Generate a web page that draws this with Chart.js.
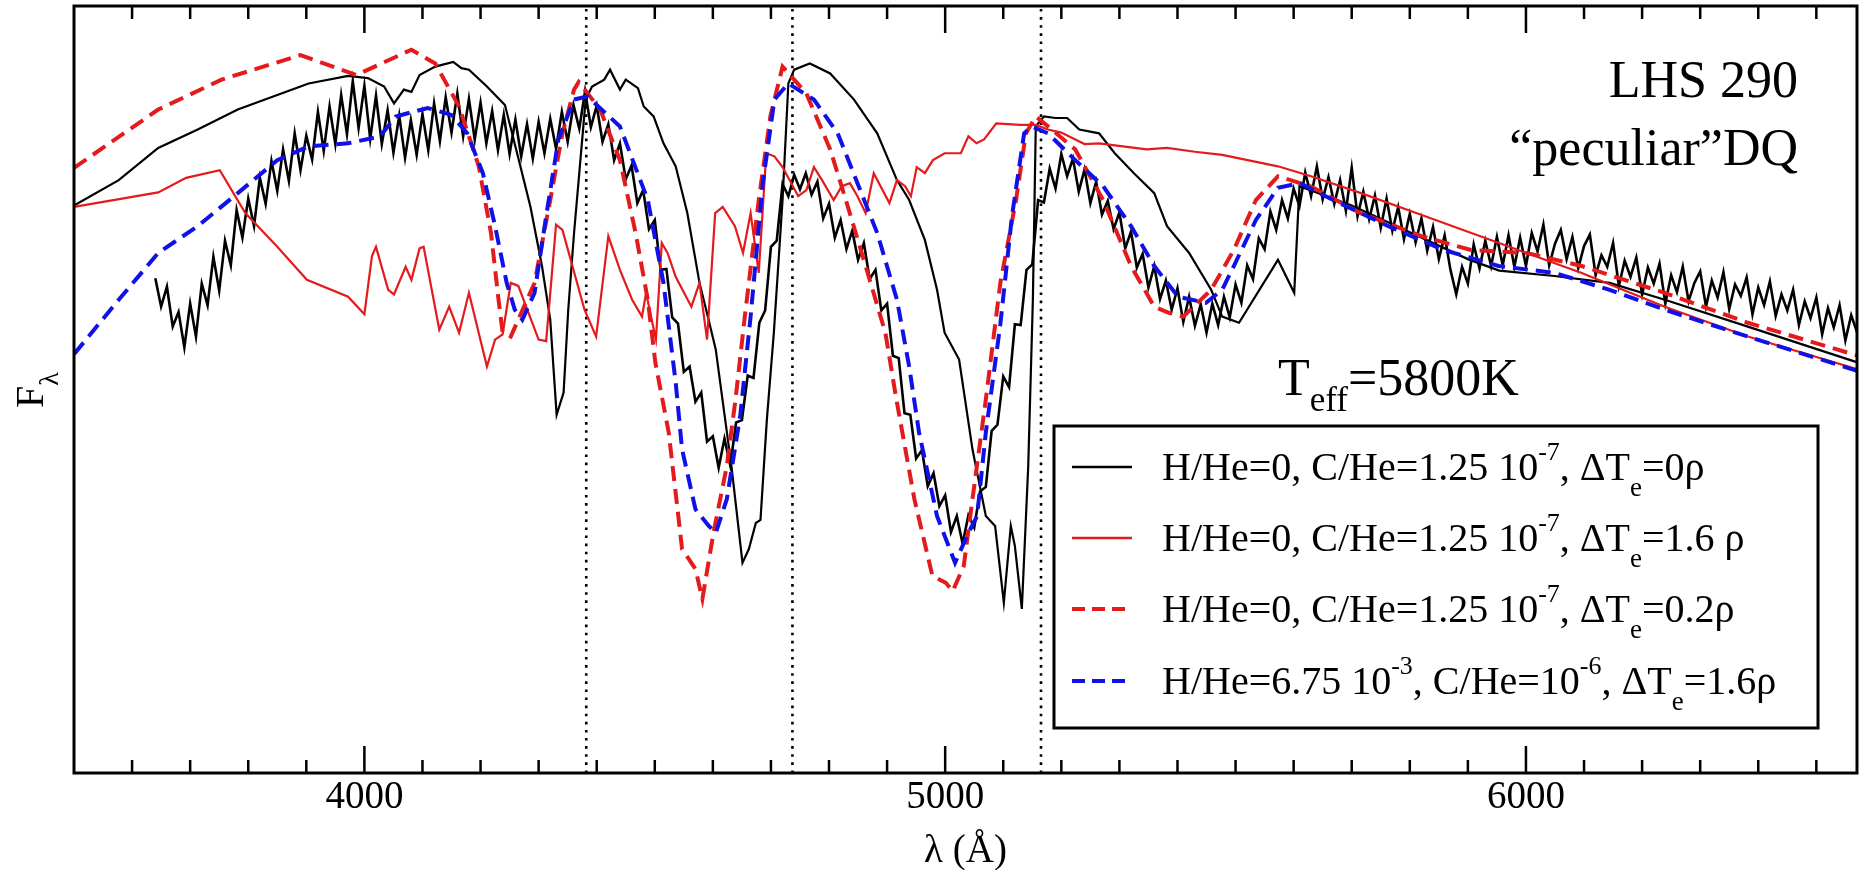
<!DOCTYPE html>
<html>
<head>
<meta charset="utf-8">
<script src="https://cdn.jsdelivr.net/npm/chart.js@4.4.0/dist/chart.umd.min.js"></script>
<style>
  html, body { margin: 0; padding: 0; background: #fff; }
  #caixa { width: 1866px; height: 870px; position: relative; }
</style>
</head>
<body>
<div id="caixa"><canvas id="graficoEspectro"></canvas></div>
<script>
// espectro observado (lambda em Angstrom, fluxo em unidades arbitrarias)
const observado = [
  [3640,64.5],[3650,60.8],[3660,63.4],[3670,58.2],[3680,60.1],[3690,55.5],[3700,61.2],[3710,56.9],[3720,63.8],[3730,61.0],
  [3740,67.3],[3750,62.9],[3760,69.4],[3770,66.2],[3780,73.4],[3790,69.8],[3800,74.9],[3810,71.3],[3820,77.6],[3830,74.2],
  [3840,79.8],[3850,75.9],[3860,81.3],[3870,77.2],[3880,83.4],[3890,78.6],[3900,83.1],[3910,80.0],[3920,86.2],[3930,81.1],
  [3940,86.9],[3950,82.0],[3960,88.4],[3970,83.3],[3980,90.2],[3990,84.1],[4000,89.6],[4010,82.7],[4020,88.3],[4030,82.0],
  [4040,86.4],[4050,80.9],[4060,85.7],[4070,80.2],[4080,85.1],[4090,80.6],[4100,85.9],[4110,81.2],[4120,87.3],[4130,82.4],
  [4140,88.1],[4150,83.5],[4160,88.6],[4170,83.0],[4180,87.9],[4190,82.6],[4200,87.4],[4210,82.1],[4220,86.3],[4230,81.2],
  [4240,85.8],[4250,80.7],[4260,85.2],[4270,80.4],[4280,84.6],[4290,80.1],[4300,84.9],[4310,80.8],[4320,85.3],[4330,81.4],
  [4340,86.2],[4350,82.3],[4360,87.1],[4370,84.0],[4380,88.9],[4390,84.2],[4400,87.0],[4410,82.3],[4420,84.6],[4430,79.9],
  [4440,82.1],[4450,77.4],[4460,79.2],[4470,74.3],[4480,76.0],[4490,70.9],[4500,72.1],[4510,65.6],[4520,65.7],[4530,59.4],
  [4540,58.6],[4550,52.3],[4560,53.0],[4570,48.4],[4580,49.6],[4590,43.2],[4600,43.9],[4610,39.8],[4620,43.6],[4630,40.1],
  [4640,45.7],[4650,46.0],[4660,51.8],[4670,51.5],[4680,58.7],[4690,60.3],[4700,68.6],[4710,69.4],[4720,76.8],[4730,75.2],
  [4740,78.0],[4750,76.1],[4760,78.2],[4770,75.4],[4780,77.1],[4790,72.3],[4800,74.2],[4810,69.8],[4820,72.1],[4830,68.3],
  [4840,70.7],[4850,66.9],[4860,69.1],[4870,64.4],[4880,65.6],[4890,60.3],[4900,61.2],[4910,54.4],[4920,54.1],[4930,46.9],
  [4940,46.7],[4950,41.0],[4960,42.1],[4970,37.4],[4980,39.1],[4990,34.8],[5000,36.2],[5010,31.4],[5020,33.5],[5030,29.9],
  [5040,33.6],[5050,32.0],[5060,36.7],[5070,37.3],[5080,44.6],[5090,45.4],[5100,51.7],[5110,50.3],[5120,58.5],[5130,58.4],
  [5140,65.6],[5150,66.3],[5160,74.7],[5170,74.4],[5180,78.8],[5190,76.2],[5200,80.7],[5210,77.8],[5220,80.1],[5230,75.8],
  [5240,78.7],[5250,74.3],[5260,77.1],[5270,72.8],[5280,74.6],[5290,70.9],[5300,73.1],[5310,68.4],[5320,70.6],[5330,65.9],
  [5340,67.7],[5350,63.3],[5360,66.1],[5370,61.8],[5380,64.2],[5390,60.4],[5400,63.2],[5410,58.8],[5420,62.1],[5430,58.3],
  [5440,61.1],[5450,57.4],[5460,61.2],[5470,58.4],[5480,62.1],[5490,59.4],[5500,63.7],[5510,61.3],[5520,66.2],[5530,64.4],
  [5540,69.7],[5550,68.3],[5560,73.2],[5570,70.8],[5580,74.7],[5590,72.3],[5600,76.2],[5610,73.9],[5620,78.3],[5630,75.2],
  [5640,79.1],[5650,74.8],[5660,77.7],[5670,74.2],[5680,77.3],[5690,73.3],[5700,78.9],[5710,72.6],[5720,75.8],[5730,72.2],
  [5740,75.3],[5750,71.1],[5760,74.9],[5770,70.7],[5780,73.8],[5790,69.6],[5800,72.9],[5810,69.2],[5820,72.3],[5830,68.1],
  [5840,71.2],[5850,67.0],[5860,70.1],[5870,65.6],[5880,62.4],[5890,66.0],[5900,63.8],[5910,68.9],[5920,65.8],[5930,69.4],
  [5940,66.1],[5950,69.9],[5960,66.2],[5970,70.1],[5980,66.0],[5990,69.8],[6000,66.1],[6010,70.4],[6020,68.0],[6030,71.5],
  [6040,66.2],[6050,69.0],[6060,70.8],[6070,67.0],[6080,69.9],[6090,65.8],[6100,68.7],[6110,70.2],[6120,64.9],[6130,67.5],
  [6140,66.0],[6150,69.1],[6160,63.5],[6170,66.8],[6180,64.7],[6190,67.2],[6200,62.4],[6210,65.9],[6220,63.8],[6230,66.4],
  [6240,61.2],[6250,64.9],[6260,62.7],[6270,66.0],[6280,61.5],[6290,63.9],[6300,65.4],[6310,60.8],[6320,64.2],[6330,62.0],
  [6340,65.3],[6350,60.5],[6360,63.7],[6370,62.2],[6380,64.6],[6390,59.8],[6400,63.3],[6410,61.0],[6420,64.1],[6430,59.6],
  [6440,62.4],[6450,60.3],[6460,63.0],[6470,58.4],[6480,61.5],[6490,59.3],[6500,62.0],[6510,57.2],[6520,60.6],[6530,58.1],
  [6540,61.0],[6550,56.4],[6560,59.7],[6570,57.5]
]

// modelo H/He=0, C/He=1.25e-7, dTe=0 (preto fino)
const modeloPreto = [
  [3500,74],[3577,77.3],[3645,81.5],[3713,83.9],[3782,86.5],[3850,88.4],[3904,89.9],[3972,90.9],[4006,90.6],[4034,89.5],
  [4051,87.3],[4068,89.1],[4081,88.8],[4095,91],[4122,92.1],[4153,92.7],[4167,91.9],[4180,91.7],[4211,89.5],[4242,87.1],
  [4266,79.9],[4286,73.8],[4306,66],[4320,59.1],[4331,46.7],[4343,49.6],[4351,60.4],[4361,70.4],[4381,87.8],[4392,89.5],
  [4413,90.4],[4423,91.7],[4440,89.1],[4450,90.4],[4471,89.3],[4481,86.9],[4498,85.6],[4515,82.1],[4536,79.1],[4556,73],
  [4577,63.9],[4593,59],[4605,55.2],[4632,40],[4651,27.4],[4662,29.2],[4674,32.6],[4682,33],[4693,46.1],[4705,57.4],
  [4720,74.7],[4730,89.9],[4740,91.7],[4767,92.5],[4802,91.2],[4843,87.8],[4883,83.4],[4917,77.3],[4938,74.7],[4965,69.5],
  [4986,63],[4999,57.4],[5024,53.9],[5047,42.2],[5070,33.5],[5086,32.2],[5101,22.2],[5113,32.2],[5120,29.6],[5132,21.4],
  [5143,40],[5151,61.7],[5156,84.3],[5170,85.6],[5190,85.4],[5210,85.4],[5231,83.9],[5265,83.4],[5292,80.8],[5325,78.2],
  [5360,75.6],[5382,71.3],[5420,67.8],[5458,63],[5477,59.5],[5506,58.7],[5573,66.9],[5601,62.6],[5610,76.5],[5700,74],
  [5800,70.5],[5900,67],[5954,65.5],[6049,64.8],[6144,63.9],[6239,61.7],[6382,58.2],[6572,53.5]
]

// modelo H/He=0, C/He=1.25e-7, dTe=1.6 rho (vermelho fino)
const modeloVermelho = [
  [3500,73.8],[3645,75.7],[3693,77.6],[3751,78.6],[3795,73],[3850,68.6],[3901,64.3],[3972,62.1],[4000,59.8],[4013,67.4],
  [4020,68.6],[4041,63],[4051,62.4],[4071,66],[4081,64.3],[4095,68.4],[4102,68.6],[4129,57.8],[4146,60.8],[4163,57.4],
  [4180,62.6],[4211,53],[4225,56.5],[4238,57.2],[4252,63.9],[4265,63.5],[4300,56.5],[4313,56.3],[4330,71.5],[4341,70.8],
  [4379,60.4],[4399,56.9],[4420,70],[4440,65.6],[4461,61.7],[4478,59.5],[4485,62.6],[4502,56.5],[4512,69.1],[4522,67.8],
  [4536,64.7],[4563,60.8],[4577,63.9],[4590,56.5],[4604,73],[4617,73.8],[4638,71.3],[4652,67.8],[4665,73],[4679,65.2],
  [4692,80.8],[4706,80.4],[4720,79],[4747,75.2],[4761,76],[4774,79],[4788,77.3],[4808,74.7],[4822,76.5],[4836,76.9],
  [4849,75.2],[4863,73],[4877,78.2],[4904,74.3],[4917,77.3],[4931,76.5],[4941,75.2],[4951,79],[4965,78.2],[4979,79.9],
  [4999,80.8],[5027,80.8],[5040,83],[5054,82.1],[5067,82.6],[5088,84.7],[5129,84.5],[5156,84.5],[5177,83.9],[5200,83.5],
  [5224,82.6],[5240,82],[5265,82.1],[5306,81.7],[5347,81.3],[5382,81.5],[5430,81],[5477,80.6],[5573,79.1],[5630,77.8],
  [5716,75.6],[5811,73],[5906,70.4],[6001,67.8],[6096,65.2],[6239,60.8],[6382,56.9],[6572,52.6]
]

// modelo H/He=0, C/He=1.25e-7, dTe=0.2 rho (vermelho tracejado)
const modeloTracejado = [
  [3500,78.9],[3645,86.5],[3754,90.4],[3890,93.6],[3986,91],[4081,94.3],[4122,92.5],[4163,86.9],[4197,79.1],[4218,70.4],
  [4231,61.7],[4238,57.4],[4252,56.9],[4293,63.9],[4320,74.7],[4341,83.4],[4361,89.1],[4369,90.1],[4406,86.5],[4440,79.9],
  [4467,70.4],[4488,61.7],[4501,53.5],[4524,44.4],[4547,29.2],[4570,26.6],[4582,22.7],[4601,31.3],[4624,40],[4639,48.7],
  [4655,59.5],[4679,74.7],[4699,85.6],[4720,92.1],[4761,88.6],[4802,81.3],[4829,74.7],[4863,66.1],[4897,57.4],[4916,48.7],
  [4947,35.7],[4978,25.7],[5001,24.8],[5013,23.7],[5032,27],[5047,35.7],[5070,48.7],[5095,63.9],[5122,74.7],[5139,83.4],
  [5156,85.6],[5177,84.3],[5224,81.3],[5272,74.7],[5320,66.1],[5360,60.8],[5385,60],[5410,59.5],[5458,63],[5497,68.2],
  [5535,74.7],[5573,77.8],[5629,76.5],[5715,73],[5820,70],[5905,68.2],[6001,67.8],[6096,66.1],[6239,62.6],[6382,58.7],
  [6572,54.4]
]

// modelo H/He=6.75e-3, C/He=1e-6, dTe=1.6 rho (azul tracejado)
const modeloAzul = [
  [3500,54.6],[3577,61.7],[3645,67.8],[3713,71.3],[3782,75.6],[3850,79.9],[3904,81.7],[3972,82.1],[4027,83],[4054,85.6],
  [4109,86.7],[4150,85.8],[4177,83.4],[4204,78.2],[4225,71.3],[4245,63.9],[4259,60.4],[4272,59.1],[4293,62.6],[4313,72.6],
  [4334,82.6],[4361,87.8],[4384,88.2],[4440,84.3],[4488,74.7],[4515,63.9],[4536,50.9],[4547,42.2],[4570,34.4],[4593,32.2],
  [4605,31.3],[4624,35.7],[4647,46.5],[4665,59.5],[4686,76.9],[4706,87.8],[4730,89.9],[4774,87.8],[4815,83.4],[4849,76.9],
  [4883,70.4],[4917,61.7],[4938,53],[4955,44.4],[4986,33.5],[5017,27.4],[5040,31.3],[5055,33.5],[5070,44.4],[5095,58.5],
  [5115,72.6],[5136,83.4],[5149,84.3],[5177,83.4],[5224,79.9],[5272,76.5],[5320,71.3],[5360,66.1],[5401,62.1],[5449,61.3],
  [5477,63],[5497,66.1],[5535,72.1],[5573,76.3],[5611,76.9],[5668,74.7],[5763,71.3],[5858,68.2],[5953,66.1],[6049,65.2],
  [6144,63],[6239,60.4],[6382,56.9],[6572,52.4]
]

// bandas de Swan do C2 (linhas pontilhadas)
const bandasC2 = [4382, 4737, 5165]

// marcas do eixo x
const ticksMaiores = [4000, 5000, 6000]
const rotulosEixoX = ['4000', '5000', '6000']
const ticksMenores = [3600, 3700, 3800, 3900, 4100, 4200, 4300, 4400, 4500, 4600, 4700, 4800, 4900,
  5100, 5200, 5300, 5400, 5500, 5600, 5700, 5800, 5900, 6100, 6200, 6300, 6400, 6500]

// textos da legenda (normal / sup / sub)
const legendaTextos = [
  [['H/He=0, C/He=1.25 10'], ['-7', 'sup'], [', \u0394T'], ['e', 'sub'], ['=0\u03c1']],
  [['H/He=0, C/He=1.25 10'], ['-7', 'sup'], [', \u0394T'], ['e', 'sub'], ['=1.6 \u03c1']],
  [['H/He=0, C/He=1.25 10'], ['-7', 'sup'], [', \u0394T'], ['e', 'sub'], ['=0.2\u03c1']],
  [['H/He=6.75 10'], ['-3', 'sup'], [', C/He=10'], ['-6', 'sup'], [', \u0394T'], ['e', 'sub'], ['=1.6\u03c1']]
]

const VERMELHO = '#e41a1c'
const AZUL = '#1010e8'
const fonte = '"Liberation Serif", "Times New Roman", serif'

// transforma os pares em pontos {x, y}
function paraPontos(lista) {
  return lista.map(p => ({ x: p[0], y: p[1] }))
}

// estilo de cada amostra da legenda
const amostras = [
  { cor: '#000', largura: 2.5, traco: [] },
  { cor: VERMELHO, largura: 2.5, traco: [] },
  { cor: VERMELHO, largura: 4, traco: [13, 7] },
  { cor: AZUL, largura: 4, traco: [13, 7] }
]

// desenha um texto com partes em sobrescrito e subscrito
function textoComposto(ctx, partes, x, y, tam) {
  partes.forEach(([t, modo]) => {
    let dy = 0, f = tam
    if (modo === 'sup') { f = Math.round(tam * 0.64); dy = -20 }
    if (modo === 'sub') { f = Math.round(tam * 0.68); dy = 16 }
    ctx.font = f + 'px ' + fonte
    ctx.fillText(t, x, y + dy)
    x += ctx.measureText(t).width
  })
}

// plugin que desenha moldura, ticks, rotulos, textos e legenda
const moldura = {
  id: 'moldura',
  afterDraw(chart) {
    const { ctx, chartArea: a, scales: { x } } = chart
    ctx.save()
    ctx.strokeStyle = '#000'
    ctx.fillStyle = '#000'
    ctx.lineWidth = 3
    ctx.setLineDash([])
    ctx.strokeRect(a.left, a.top, a.right - a.left, a.bottom - a.top)

    ctx.lineWidth = 2.5
    ticksMenores.forEach(v => {
      const px = x.getPixelForValue(v)
      ctx.beginPath()
      ctx.moveTo(px, a.bottom); ctx.lineTo(px, a.bottom - 13)
      ctx.moveTo(px, a.top); ctx.lineTo(px, a.top + 13)
      ctx.stroke()
    })
    ticksMaiores.forEach(v => {
      const px = x.getPixelForValue(v)
      ctx.beginPath()
      ctx.moveTo(px, a.bottom); ctx.lineTo(px, a.bottom - 27)
      ctx.moveTo(px, a.top); ctx.lineTo(px, a.top + 27)
      ctx.stroke()
    })

    // rotulos do eixo x
    ctx.font = '39px ' + fonte
    ctx.textAlign = 'center'
    ctx.textBaseline = 'alphabetic'
    ticksMaiores.forEach((v, i) => ctx.fillText(rotulosEixoX[i], x.getPixelForValue(v), 808))
    ctx.fillText('\u03bb (\u00c5)', (a.left + a.right) / 2, 862)

    // rotulo do eixo y
    ctx.save()
    ctx.translate(43, 408)
    ctx.rotate(-Math.PI / 2)
    ctx.textAlign = 'left'
    ctx.font = '40px ' + fonte
    ctx.fillText('F', 0, 0)
    const wF = ctx.measureText('F').width
    ctx.font = '28px ' + fonte
    ctx.fillText('\u03bb', wF, 15)
    ctx.restore()

    // nome da estrela
    ctx.textAlign = 'right'
    ctx.font = '52px ' + fonte
    ctx.fillText('LHS 290', 1798, 97)
    ctx.fillText('\u201cpeculiar\u201dDQ', 1798, 165)

    // temperatura efetiva
    ctx.textAlign = 'left'
    textoComposto(ctx, [['T'], ['eff', 'sub'], ['=5800K']], 1278, 395, 52)

    // legenda
    ctx.fillStyle = '#fff'
    ctx.fillRect(1054, 426, 764, 302)
    ctx.fillStyle = '#000'
    ctx.lineWidth = 3
    ctx.strokeRect(1054, 426, 764, 302)
    const linhas = [480, 551, 622, 694]
    legendaTextos.forEach((partes, i) => {
      const s = amostras[i]
      ctx.strokeStyle = s.cor
      ctx.lineWidth = s.largura
      ctx.setLineDash(s.traco)
      ctx.beginPath()
      ctx.moveTo(1072, linhas[i] - 13)
      ctx.lineTo(1132, linhas[i] - 13)
      ctx.stroke()
      ctx.setLineDash([])
      textoComposto(ctx, partes, 1162, linhas[i], 40)
    })
    ctx.restore()
  }
}

// datasets: o primeiro fica por cima
const conjuntos = [
  { data: paraPontos(modeloAzul), borderColor: AZUL, borderWidth: 4, borderDash: [15, 8] },
  { data: paraPontos(modeloTracejado), borderColor: VERMELHO, borderWidth: 4, borderDash: [15, 8] },
  { data: paraPontos(modeloVermelho), borderColor: VERMELHO, borderWidth: 2.2 },
  { data: paraPontos(modeloPreto), borderColor: '#000', borderWidth: 2.2 },
  { data: paraPontos(observado), borderColor: '#000', borderWidth: 2.6 }
]
bandasC2.forEach(l => {
  conjuntos.push({ data: [{ x: l, y: 0 }, { x: l, y: 100 }], borderColor: '#000', borderWidth: 2.6, borderDash: [2.6, 5.5] })
})

const graficoEspectro = new Chart(document.getElementById('graficoEspectro'), {
  type: 'line',
  data: { datasets: conjuntos },
  options: {
    responsive: true,
    maintainAspectRatio: false,
    animation: false,
    layout: { padding: { left: 74, right: 9, top: 6, bottom: 97 } },
    plugins: { legend: { display: false }, tooltip: { enabled: false } },
    elements: { point: { radius: 0 }, line: { tension: 0, fill: false } },
    scales: {
      x: { type: 'linear', min: 3500, max: 6570, display: false },
      y: { min: 0, max: 100, display: false }
    }
  },
  plugins: [moldura]
})
</script>
</body>
</html>
